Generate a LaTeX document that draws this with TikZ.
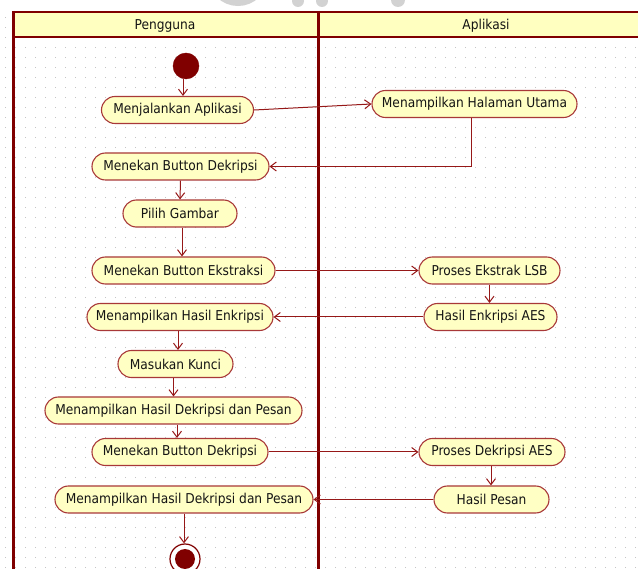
\documentclass[tikz,border=0pt]{standalone}
\usepackage{fontspec}
\setmainfont{DejaVu Sans Condensed}
\usetikzlibrary{arrows.meta}

\definecolor{laneRed}{RGB}{128,0,0}
\definecolor{edgeRed}{RGB}{150,24,24}
\definecolor{boxRed}{RGB}{168,56,56}
\definecolor{boxFill}{RGB}{255,255,196}
\definecolor{headFill}{RGB}{255,255,192}
\definecolor{dotGrey}{RGB}{196,196,196}
\definecolor{txtDark}{RGB}{20,20,20}
\definecolor{markGrey}{RGB}{210,210,210}

\tikzset{
  lbl/.style={text=txtDark, font=\fontsize{13.6}{16}\selectfont},
  act/.style={lbl, draw=boxRed, fill=boxFill, line width=1.1pt,
    rounded corners=13.5pt, minimum height=27pt, inner sep=0pt},
  flow/.style={draw=edgeRed, line width=1pt,
    -{Straight Barb[length=6pt,width=9pt,line width=1pt]}},
  lane/.style={draw=laneRed, line width=3pt},
}

\begin{document}
\begin{tikzpicture}[x=1pt,y=-1pt]
\useasboundingbox (0,0) rectangle (638,569);
\fill[white] (0,0) rectangle (638,569);

% faint mark along the top edge
\begin{scope}
  \clip (0,0) rectangle (638,11);
  \draw[markGrey, line width=6pt] (238,-24) circle (27pt);
  \fill[markGrey] (298,1) circle (6pt);
  \fill[markGrey] (322,1) circle (6pt);
  \fill[markGrey] (398,0) circle (7pt);
\end{scope}

% dotted canvas grid
\foreach \i in {0,...,63}
  \foreach \j in {1,...,56}
    \fill[dotGrey] (5+10*\i,7+10*\j) rectangle ++(1,1);

% swimlane frame
\fill[headFill] (13,12) rectangle (638,37);
\draw[laneRed, line width=2pt] (13,12) -- (638,12);
\draw[laneRed, line width=2.5pt] (13,37) -- (638,37);
\draw[lane] (13,11) -- (13,569);
\draw[lane] (318,11) -- (318,569);
\node[lbl] (laneA) at (165,26) {Pengguna};
\node[lbl] (laneB) at (486,26) {Aplikasi};

% start and end
\node[circle, fill=laneRed, draw=laneRed, minimum size=26pt, inner sep=0pt] (start) at (186,66) {};
\node[circle, fill=white, draw=laneRed, line width=1.2pt, minimum size=30pt, inner sep=0pt] (stop) at (185,559) {};
\fill[laneRed] (stop.center) circle (10pt);

% activities
\node[act, minimum width=152pt] (mj)    at (177.5,110)   {Menjalankan Aplikasi};
\node[act, minimum width=205pt] (hal)   at (474.5,104)   {Menampilkan Halaman Utama};
\node[act, minimum width=177pt] (dek1)  at (180.5,166.5) {Menekan Button Dekripsi};
\node[act, minimum width=114pt] (pilih) at (180,213.5)   {Pilih Gambar};
\node[act, minimum width=183pt] (eks)   at (183.5,270.5) {Menekan Button Ekstraksi};
\node[act, minimum width=141pt] (lsb)   at (489.5,270.5) {Proses Ekstrak LSB};
\node[act, minimum width=133pt] (hea)   at (490.5,317)   {Hasil Enkripsi AES};
\node[act, minimum width=186pt] (mhe)   at (180,317)     {Menampilkan Hasil Enkripsi};
\node[act, minimum width=115pt] (kunci) at (175.5,364)   {Masukan Kunci};
\node[act, minimum width=257pt] (ddp1)  at (173.5,410.5) {Menampilkan Hasil Dekripsi dan Pesan};
\node[act, minimum width=176pt] (dek2)  at (180,452)     {Menekan Button Dekripsi};
\node[act, minimum width=146pt] (pda)   at (492,452)     {Proses Dekripsi AES};
\node[act, minimum width=115pt] (pesan) at (491.5,499.5) {Hasil Pesan};
\node[act, minimum width=258pt] (ddp2)  at (184,499.5)   {Menampilkan Hasil Dekripsi dan Pesan};

% control flow
\draw[flow] ([xshift=-3pt]start.south) -- ([xshift=-3pt]start.south |- mj.north);
\draw[flow] (mj.east) -- (hal.west);
\draw[flow] ([xshift=-3pt]hal.south) |- (dek1.east);
\draw[flow] (dek1.south) -- (pilih.north);
\draw[flow] ([xshift=2pt]pilih.south) -- ([xshift=2pt]pilih.south |- eks.north);
\draw[flow] (eks.east) -- (lsb.west);
\draw[flow] (lsb.south) -- (lsb.south |- hea.north);
\draw[flow] (hea.west) -- (mhe.east);
\draw[flow] ([xshift=-2pt]mhe.south) -- ([xshift=-2pt]mhe.south |- kunci.north);
\draw[flow] ([xshift=-2pt]kunci.south) -- ([xshift=-2pt]kunci.south |- ddp1.north);
\draw[flow] ([xshift=3.5pt]ddp1.south) -- ([xshift=3.5pt]ddp1.south |- dek2.north);
\draw[flow] (dek2.east) -- (pda.west);
\draw[flow] ([xshift=-1pt]pda.south) -- ([xshift=-1pt]pda.south |- pesan.north);
\draw[flow] (pesan.west) -- (ddp2.east);
\draw[flow] (ddp2.south) -- (ddp2.south |- stop.north);
\end{tikzpicture}
\end{document}
